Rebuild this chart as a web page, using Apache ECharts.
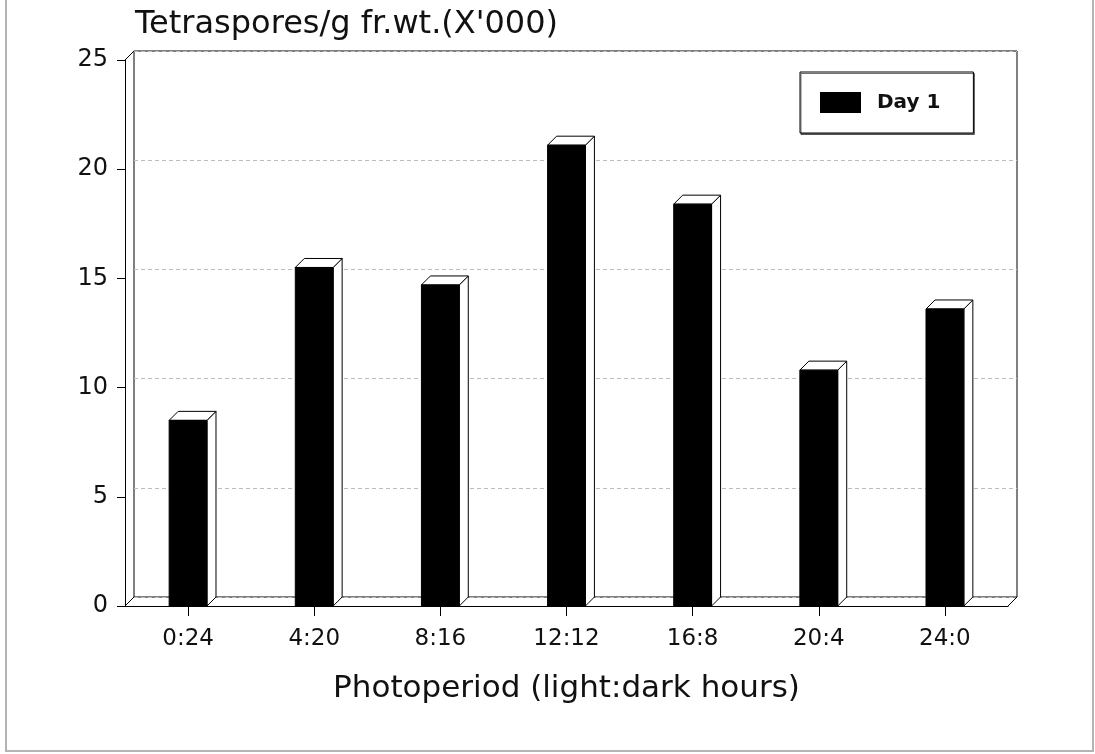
<!DOCTYPE html>
<html>
<head>
<meta charset="utf-8">
<title>Tetraspores by photoperiod</title>
<script src="https://cdn.jsdelivr.net/npm/echarts@6/dist/echarts.min.js"></script>
<style>
  html, body { margin: 0; padding: 0; background: #fff; }
  #chart { width: 1095px; height: 754px; }
</style>
</head>
<body>
<div id="chart"></div>
<script>
// Photoperiod treatments (light:dark hours)
const categories = ['0:24', '4:20', '8:16', '12:12', '16:8', '20:4', '24:0'];
// Tetraspores per g fresh weight (x 1000), day 1
const day1 = [8.5, 15.5, 14.7, 21.1, 18.4, 10.8, 13.6];
// Value axis range and steps
const yMin = 0, yMax = 25, yStep = 5;

const FONT = 'DejaVu Sans';
const INK = '#111';
const DEPTH = 9;          // pseudo-3D offset in pixels (right and up)
const BAR_FRACTION = 0.30;

const chart = echarts.init(document.getElementById('chart'), null, { renderer: 'canvas' });

// Front-face 3D column: black face, white top and side faces outlined in black
function renderColumn(params, api) {
  const idx = api.value(0);
  const v = api.value(1);
  const base = api.coord([idx, 0]);
  const top = api.coord([idx, v]);
  const w = api.size([1, 0])[0] * BAR_FRACTION;
  const x0 = top[0] - w / 2, x1 = x0 + w;
  const yt = top[1], yb = base[1];
  const d = DEPTH;
  const edge = { stroke: '#000', lineWidth: 1, fill: '#fff' };
  return {
    type: 'group',
    children: [
      { type: 'polygon', shape: { points: [[x1, yt], [x1 + d, yt - d], [x1 + d, yb - d], [x1, yb]] }, style: edge },
      { type: 'polygon', shape: { points: [[x0, yt], [x0 + d, yt - d], [x1 + d, yt - d], [x1, yt]] }, style: edge },
      { type: 'rect', shape: { x: x0, y: yt, width: w, height: yb - yt }, style: { fill: api.visual('color'), stroke: '#000', lineWidth: 1 } }
    ]
  };
}

// Diagonal edges joining the front axes to the back wall
function renderFrameEdges(params, api) {
  const cs = params.coordSys;
  const d = DEPTH;
  const left = cs.x, right = cs.x + cs.width, top = cs.y, bottom = cs.y + cs.height;
  const st = { stroke: '#000', lineWidth: 1 };
  return {
    type: 'group',
    children: [
      { type: 'line', shape: { x1: left, y1: top, x2: left + d, y2: top - d }, style: st },
      { type: 'line', shape: { x1: left, y1: bottom, x2: left + d, y2: bottom - d }, style: st },
      { type: 'line', shape: { x1: right, y1: bottom, x2: right + d, y2: bottom - d }, style: st }
    ]
  };
}

const option = {
  backgroundColor: '#fff',
  animation: false,
  textStyle: { fontFamily: FONT, color: INK },
  title: {
    text: "Tetraspores/g fr.wt.(X'000)",
    left: 135,
    top: 9,
    padding: 0,
    textStyle: { fontFamily: FONT, fontSize: 32, fontWeight: 'normal', color: INK }
  },
  legend: {
    data: [{ name: 'Day 1', icon: 'rect' }],
    left: 800,
    top: 72,
    orient: 'horizontal',
    padding: [20, 33, 20, 20],
    itemWidth: 41,
    itemHeight: 21,
    backgroundColor: '#fff',
    borderColor: '#000',
    borderWidth: 1,
    shadowColor: 'rgba(0,0,0,0.55)',
    shadowOffsetX: 1,
    shadowOffsetY: 1.5,
    shadowBlur: 0,
    selectedMode: false,
    textStyle: { fontFamily: FONT, fontSize: 20, fontWeight: 'bold', color: INK, padding: [0, 0, 0, 11] }
  },
  grid: [
    // front plane: axes and columns
    { left: 125, right: 87, top: 60, bottom: 148, containLabel: false },
    // back wall, shifted by the depth offset
    { left: 125 + DEPTH, right: 87 - DEPTH, top: 60 - DEPTH, bottom: 148 + DEPTH,
      show: true, borderColor: '#000', borderWidth: 1, backgroundColor: 'transparent' }
  ],
  xAxis: [
    {
      type: 'category',
      gridIndex: 0,
      data: categories,
      boundaryGap: true,
      axisLine: { show: true, lineStyle: { color: '#000', width: 1 } },
      axisTick: { show: true, alignWithLabel: true, length: 10, lineStyle: { color: '#000' } },
      axisLabel: { fontFamily: FONT, fontSize: 23, color: INK, margin: 22 },
      name: 'Photoperiod (light:dark hours)',
      nameLocation: 'middle',
      nameGap: 67,
      nameTextStyle: { fontFamily: FONT, fontSize: 31, color: INK }
    },
    {
      type: 'category',
      gridIndex: 1,
      data: categories,
      show: false
    }
  ],
  yAxis: [
    {
      type: 'value',
      gridIndex: 0,
      min: yMin, max: yMax, interval: yStep,
      axisLine: { show: true, lineStyle: { color: '#000', width: 1 } },
      axisTick: { show: true, length: 8, lineStyle: { color: '#000' } },
      axisLabel: { fontFamily: FONT, fontSize: 24, color: INK, margin: 17 },
      splitLine: { show: false }
    },
    {
      type: 'value',
      gridIndex: 1,
      min: yMin, max: yMax, interval: yStep,
      axisLine: { show: false },
      axisTick: { show: false },
      axisLabel: { show: false },
      splitLine: { show: true, lineStyle: { color: '#bdbdbd', width: 1, type: [4, 3] } }
    }
  ],
  series: [
    {
      name: 'frame',
      type: 'custom',
      xAxisIndex: 0,
      yAxisIndex: 0,
      renderItem: renderFrameEdges,
      data: [[0, 0]],
      silent: true,
      z: 1
    },
    {
      name: 'Day 1',
      type: 'custom',
      xAxisIndex: 0,
      yAxisIndex: 0,
      itemStyle: { color: '#000' },
      encode: { x: 0, y: 1 },
      renderItem: renderColumn,
      data: day1.map((v, i) => [i, v]),
      z: 3
    }
  ],
  graphic: [
    {
      type: 'rect',
      shape: { x: 6, y: -10, width: 1087, height: 761 },
      style: { fill: 'none', stroke: '#b4b4b4', lineWidth: 2 },
      silent: true,
      z: -1
    }
  ]
};

chart.setOption(option);
</script>
</body>
</html>
